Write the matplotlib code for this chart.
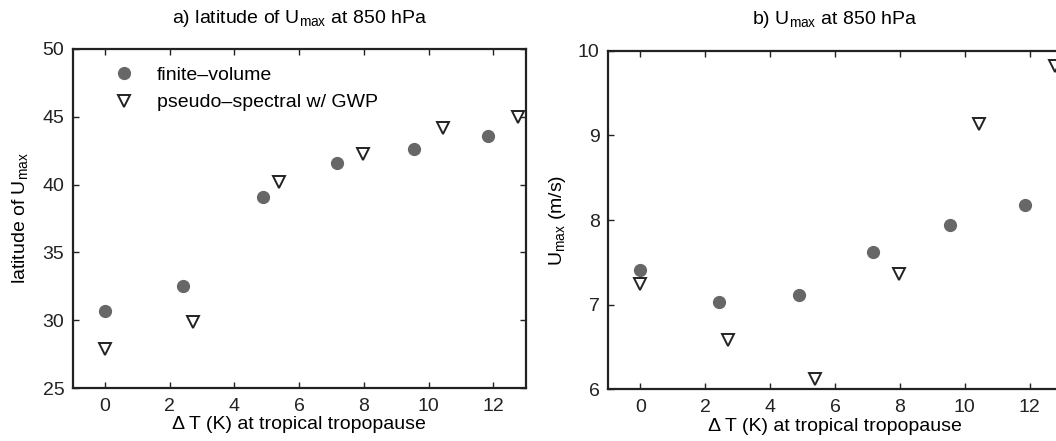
import matplotlib
matplotlib.use('Agg')
import matplotlib.pyplot as plt

plt.rcParams['font.family'] = ['Liberation Sans', 'DejaVu Sans']
plt.rcParams['mathtext.fontset'] = 'custom'
plt.rcParams['mathtext.rm'] = 'Liberation Sans'
plt.rcParams['font.size'] = 14

# data
dT_fv = [0, 2.42, 4.88, 7.18, 9.54, 11.84]
dT_ps = [0, 2.71, 5.39, 7.96, 10.44, 12.77]
lat_fv = [30.7, 32.5, 39.1, 41.6, 42.6, 43.55]
lat_ps = [27.9, 29.9, 40.2, 42.25, 44.2, 45.0]
umax_fv = [7.41, 7.03, 7.11, 7.62, 7.94, 8.18]
umax_ps = [7.25, 6.58, 6.12, 7.36, 9.14, 9.82]

xticks = [0, 2, 4, 6, 8, 10, 12]


def style_axes(ax):
    ax.set_xlim(-1, 13)
    ax.set_xticks(xticks)
    ax.tick_params(direction='in', length=4, width=1, top=True, right=True,
                   labelsize=14, colors='#222222')
    ax.tick_params(axis='x', pad=7)
    ax.tick_params(axis='y', pad=6)
    for s in ax.spines.values():
        s.set_linewidth(1.6)
        s.set_color('#222222')
    ax.set_xlabel('\u0394 T (K) at tropical tropopause', fontsize=14, labelpad=1)


fig = plt.figure(figsize=(10.56, 4.41), dpi=100)
ax1 = fig.add_axes([0.0688, 0.120, 0.429, 0.769])
ax2 = fig.add_axes([0.5758, 0.117, 0.430, 0.768])

ax1.plot(dT_fv, lat_fv, 'o', color='#676767', ms=8.5, mec='#676767', label='finite\u2013volume')
ax1.plot(dT_ps, lat_ps, 'v', mfc='white', mec='#222222', mew=1.4, ms=8, label='pseudo\u2013spectral w/ GWP')
ax1.set_ylim(25, 50)
ax1.set_yticks([25, 30, 35, 40, 45, 50])
style_axes(ax1)
ax1.set_ylabel('latitude of U$_\\mathregular{max}$', fontsize=14, labelpad=8)
ax1.set_title('a) latitude of U$_\\mathregular{max}$ at 850 hPa', fontsize=14, pad=19)
ax1.legend(loc='upper left', frameon=False, fontsize=14, handletextpad=0.7,
           labelspacing=0.5, borderaxespad=0.5, bbox_to_anchor=(0.032, 1.0))

ax2.plot(dT_fv, umax_fv, 'o', color='#676767', ms=8.5, mec='#676767')
ax2.plot(dT_ps, umax_ps, 'v', mfc='white', mec='#222222', mew=1.4, ms=8)
ax2.set_ylim(6, 10)
ax2.set_yticks([6, 7, 8, 9, 10])
style_axes(ax2)
ax2.set_ylabel('U$_\\mathregular{max}$ (m/s)', fontsize=14, labelpad=7)
ax2.set_title('b) U$_\\mathregular{max}$ at 850 hPa', fontsize=14, pad=19)

fig.savefig('out.png', dpi=100)
